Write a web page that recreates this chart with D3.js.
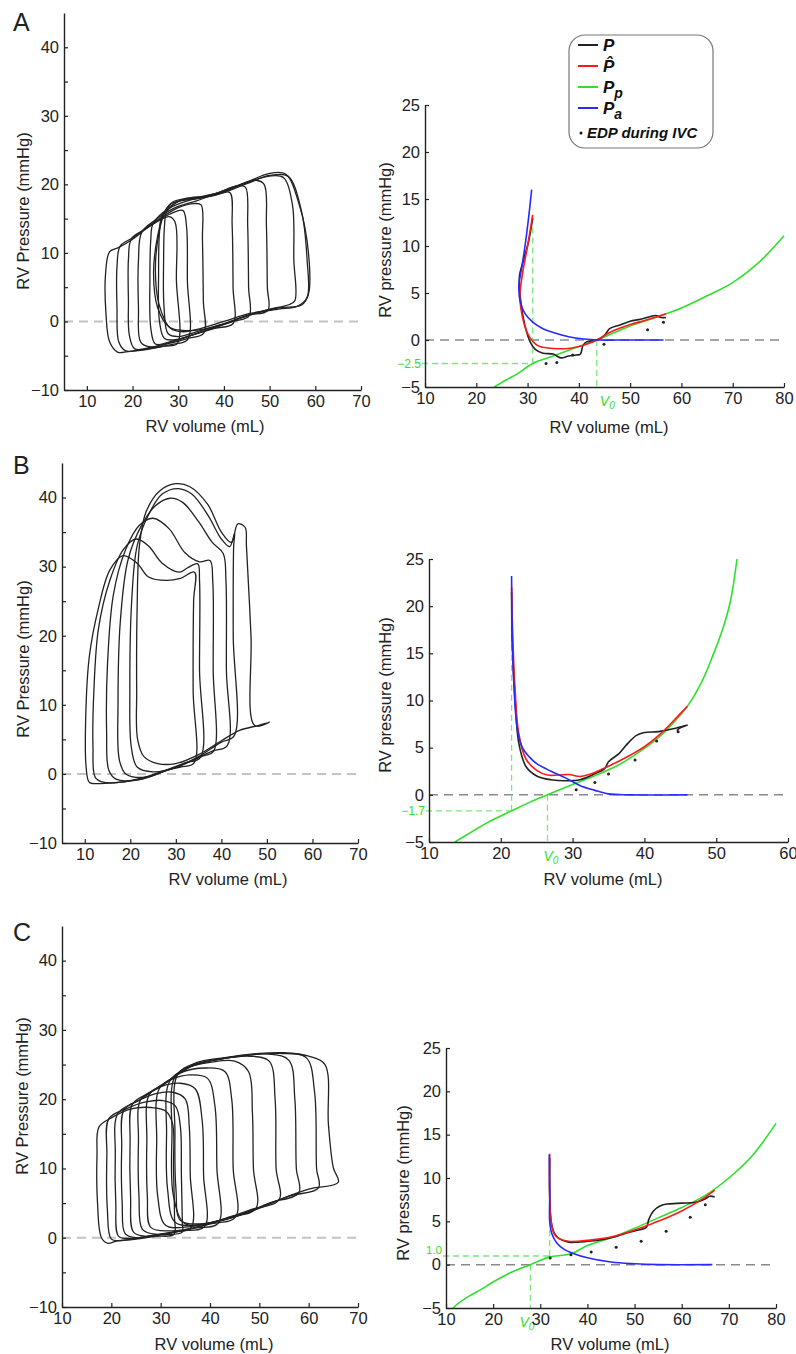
<!DOCTYPE html>
<html>
<head>
<meta charset="utf-8">
<script src="https://cdn.jsdelivr.net/npm/d3@7"></script>
<style>
  body { margin: 0; background: #fff; }
  text { font-family: "Liberation Sans", Arial, Helvetica, sans-serif; }
</style>
</head>
<body>
<script>
// ---------- tick values ----------
const leftXTicks = [10, 20, 30, 40, 50, 60, 70];
const leftYTicks = [-10, -5, 0, 5, 10, 15, 20, 25, 30, 35, 40];
const rightYTicks = [-5, 0, 5, 10, 15, 20, 25];
const rightXTicks80 = [10, 20, 30, 40, 50, 60, 70, 80];
const rightXTicks60 = [10, 20, 30, 40, 50, 60];

// ---------- panel A: PV loops during IVC occlusion [volume, pressure] ----------
const loopsA = [
  [[29,17.5],[35,18.2],[40,19],[45,20.3],[50,21.6],[53.5,21.5],[56.5,17],[58.5,10],[58.5,4],[57,2.4],[52,2],[46,1],[40,-0.3],[35,-1.2],[31,-1.3],[28,-0.8],[25.5,2],[24.6,7],[25.5,12.5],[27,16]],
  [[28.5,17.2],[35,18],[40,18.8],[45,20.1],[50,21.3],[54,21.2],[57,16],[58.2,9],[58.2,3.5],[56,2.2],[52,1.8],[46,1.2],[40,0],[35,-1],[31,-1.5],[28.3,-1],[25.8,2.5],[25,7.5],[25.8,13],[27,15.8]],
  [[27.5,16],[31,17.8],[38,18.4],[44,20],[50,21.2],[53,21],[55,17],[55.3,9],[55.5,3],[54,2.4],[50,1.8],[45,0.8],[40,-0.4],[35,-1.3],[30,-2.2],[27.8,-1.8],[26.9,2],[26.8,9],[27,14]],
  [[26.5,15.5],[30,17.5],[36,18.2],[42,19.6],[47,20.6],[48.8,20],[49.3,14],[49.5,5],[49.6,1.6],[45,0.9],[40,-0.4],[35,-1.5],[30,-2.6],[27,-2.5],[25.9,0],[25.7,7],[25.9,13]],
  [[24.5,14.3],[28,16.5],[33,17.8],[38,18.6],[43,19.8],[44.7,19.6],[45.2,14],[45.4,5],[45.5,0.8],[42,0],[38,-0.9],[33,-2],[28,-3],[25,-3.3],[24,-1],[23.8,6],[24,12]],
  [[22,13],[25,14.8],[29,16.5],[34,17.6],[39,18.7],[41.3,18.8],[41.8,14],[42,5],[42,-0.3],[38,-1],[33,-2],[28,-3.1],[24,-3.7],[21.8,-3],[21.3,2],[21.3,9]],
  [[19.7,12],[22,13.2],[26,15],[30,16.6],[33.5,17.2],[35,17],[35.3,12],[35.5,3],[35.6,-1.7],[32,-2.5],[28,-3.2],[24,-3.8],[20.5,-4],[19.3,-2],[19.1,3],[19.1,9]],
  [[17.3,11],[20,12.2],[24,14],[28,15.6],[31,16.2],[31.8,14],[32,6],[32.1,-2.6],[29,-3.3],[25,-3.8],[21,-4.2],[18.5,-4.3],[17,-3],[16.6,2],[16.6,8]],
  [[15,10.2],[17,10.8],[20,12],[24,14],[28,15.3],[29.3,14.5],[29.6,6],[29.8,-3.2],[27,-3.6],[23,-4.1],[19,-4.4],[16.8,-4.5],[15,-3],[14.2,1],[14.1,7]]
];

// ---------- panel B ----------
const loopsB = [
  [[47.3,7],[46.5,20],[45.5,33],[45.2,35.7],[43.6,36.2],[42.2,33.5],[40,35],[37,39],[33,41.6],[30,42],[26.5,41],[23.5,38],[22,33],[21.5,24],[21.4,12],[21.6,5],[23,2.5],[26,1.5],[30,1.5],[35,2.8],[40,4.8],[44,6.3],[48,7],[50.6,7.5]],
  [[42.8,5.5],[42.6,20],[42.7,33],[42.9,34.8],[41.8,32.9],[40,34],[37,37.5],[33.5,40.5],[30.5,41.3],[27,40.5],[24,37.5],[21.5,33],[20.3,25],[19.9,12],[20.2,4],[21.5,1],[25,0.3],[30,0.9],[35,2.5],[40,4.6]],
  [[41.3,4.1],[41.1,15],[41,28],[40.4,31.9],[38,33.5],[35,36.5],[31.5,39.3],[28.7,39.9],[25.5,38.8],[22.5,36],[19.5,31],[17.8,22],[17.3,10],[17.6,2],[19,0],[23,-0.5],[28,0.5],[33,1.8],[38,3.3]],
  [[38.3,3.3],[38.2,15],[38.1,28],[37.5,30.9],[35.2,30.7],[32,32],[28.5,35.5],[25,37],[22,36],[19,32.5],[16.3,26],[15,16],[14.8,6],[15.3,0.5],[17,-0.8],[22,-0.8],[27,0.3],[32,1.5],[36,2.6]],
  [[35.4,2.4],[35.2,15],[35.2,28],[34.8,30.4],[32.5,29.8],[30.8,29.2],[27,30.5],[24,33],[21.3,34],[18.5,32.5],[15.5,28],[13,21],[12,12],[11.8,4],[12.3,-0.5],[14,-1.2],[18,-1.2],[23,-0.5],[28,0.6],[32,1.6]],
  [[34,1.6],[33.8,12],[33.9,25],[34.1,29.2],[31,28.3],[27.9,28],[24,28.5],[21.5,30.5],[18.4,31.6],[15.5,29.5],[13,24],[11,17],[10.2,8],[10.3,1],[11,-1.2],[13,-1.4],[18,-1.2],[23,-0.7],[28,0.5],[31,1]]
];

// ---------- panel C ----------
const loopsC = [
  [[17.5,16],[20,17.3],[24,18.6],[28,18.8],[31,18.3],[32.4,16.5],[32.6,10],[32.8,3],[32.7,0.5],[29,0.2],[25,-0.2],[21,-0.5],[19.3,-0.8],[18,0],[17.2,5],[17.1,12]],
  [[19.5,17.2],[23,18.6],[27,19.6],[30.5,19.8],[33,19],[34,16],[34.2,9],[34.4,2],[34.4,0.8],[30,0.4],[26,0],[22,-0.4],[20,-0.2],[19.2,4],[19.1,12]],
  [[21.3,17.9],[25,19.6],[29,20.8],[32.5,21],[35,20],[35.8,16],[36,9],[36.2,1.5],[33,0.8],[28,0.3],[24,-0.1],[21.5,0.2],[20.9,5],[20.8,12]],
  [[22.6,18.5],[26,20],[30,21.8],[34,22.3],[37,21.5],[38.4,17],[38.7,9],[38.9,1.6],[34,1],[29,0.4],[25,0],[22.8,0.6],[22.2,5],[22.1,13]],
  [[24.3,19.3],[28,21],[32,22.8],[36,23.5],[39.5,23],[41,19],[41.4,10],[41.7,2.1],[37,1.4],[32,0.7],[27,0.2],[24.5,0.8],[23.9,6],[23.8,14]],
  [[26,20],[30,21.8],[34,23.8],[39,24.5],[43,24],[44.4,20],[44.7,10],[45.2,3],[40,2],[34,1],[29,0.5],[26.3,1.2],[25.6,6],[25.5,14]],
  [[27.7,20.7],[31,22.3],[35,24.4],[40,25.3],[45,25.5],[47.8,24],[48.6,18],[48.8,10],[49.3,4.2],[44,3],[38,1.6],[32,1],[28,1.5],[27.3,6],[27.2,14]],
  [[29.7,21.5],[33,23.3],[37,25],[42,25.8],[48,26.2],[52,25.5],[53.2,20],[53.4,10],[54,5.5],[48,4],[42,2.5],[36,1.6],[31,1.8],[29.4,6],[29.2,14]],
  [[31.7,22.4],[35,24.4],[40,25.5],[46,26.2],[52,26.5],[56,25.6],[57.2,20],[57.5,10],[58,6.5],[52,5],[45,3],[39,2],[33,2.2],[31.4,7],[31.2,15]],
  [[32.8,23.1],[36,24.8],[42,25.8],[48,26.4],[54,26.6],[59.5,26],[61.2,21],[61.6,10],[62,7.2],[56,6],[49,4],[42,2.5],[35,2],[32.6,6],[32.3,15]],
  [[33.4,23.5],[37,25.2],[43,26],[50,26.6],[55,26.7],[60,26.2],[63.3,25],[64,16.4],[65,10.1],[66,8],[60,7],[53,5.2],[45,3],[38,2],[34,2.5],[33.1,7],[32.9,15]]
];

// ---------- right panels: measured P, fitted P^, passive Pp, active Pa, EDP dots ----------
const measuredA = [[31,13],[30.2,10.5],[29.2,8.5],[28.4,6.7],[28.7,4],[29.5,1.5],[30.5,-0.2],[31.5,-1],[33,-1.4],[35,-1.5],[36.5,-1.9],[38,-1.7],[39.5,-1.6],[40.3,-1.5],[40.8,-0.6],[41.5,-0.2],[43.5,0],[45,0.5],[46,1.2],[48,1.6],[50,2],[52,2.2],[54,2.5],[55,2.6],[56,2.4],[57,2.4]];
const fittedA = [[31,13.3],[30,10],[29,7],[28.5,4.6],[29.2,2],[30.2,0.5],[32,-0.6],[35,-0.9],[38,-0.9],[40,-0.7],[42,-0.35],[43.5,0],[46,0.8],[50,1.65],[53,2.1],[56,2.6],[57,2.8]];
const passiveA = [[23.5,-5],[26,-4.2],[28,-3.6],[31,-2.5],[34,-1.9],[37,-1.3],[40,-0.7],[43.5,0],[47,0.8],[50,1.5],[55,2.4],[60,3.4],[65,4.7],[70,6.1],[75,8.2],[80,11.1]];
const activeA = [[30.8,16],[30.2,13],[29.5,10],[28.8,7.5],[28.3,5.8],[28.6,4],[29.5,2.8],[31,1.9],[33,1.2],[35,0.8],[38,0.35],[41,0.1],[43.5,0],[50,0],[56.5,0]];
const edpA = [[33.6,-2.5],[35.7,-2.4],[38.8,-1.6],[44.9,-0.45],[53.4,1.1],[56.5,1.9]];

const measuredB = [[21.5,21.5],[21.6,16],[22,10],[22.5,5.5],[23.5,3],[25,2],[27,1.6],[29,1.5],[31,1.6],[33,2.2],[34.5,2.8],[35,3.5],[36.5,4.4],[37.5,5.3],[38.9,6.3],[40,6.6],[42,6.7],[44,7],[46,7.4],[45,7.1],[44.5,6.8]];
const fittedB = [[21.5,22],[21.7,16],[22,11],[22.5,6.5],[23.5,3.8],[25,2.6],[26.5,2.1],[28,2.1],[29.5,2.15],[31,1.95],[32.5,2.2],[34,2.7],[36,3.4],[38,4.2],[40,5.1],[42,6.3],[44,7.8],[46,9.4]];
const passiveB = [[13.6,-5],[16,-3.9],[18,-3],[21.5,-1.7],[24,-0.8],[26.5,0],[30,1.1],[33,2],[36,3],[39,4.4],[42,6.1],[44,7.6],[46,9.4],[48,12],[49.5,14.7],[51,17.8],[52,20.6],[52.9,25]];
const activeB = [[21.5,23.2],[21.6,17],[21.8,12],[22.3,7],[23,5],[24,4],[25,3.3],[27,2.5],[29,1.8],[31,1],[33,0.5],[35,0.1],[38,0],[46,0]];
const edpB = [[30.5,0.55],[33.1,1.3],[35,2.2],[38.7,3.7],[41.7,5.7],[44.7,6.7]];

const measuredC = [[32,12.3],[32,8],[32.3,5],[33,3.6],[34,3],[36,2.6],[38,2.6],[40,2.7],[42,2.8],[45,3.1],[48,3.6],[50,3.9],[52.5,4.3],[53,5.2],[54,6.2],[55.5,6.8],[57,7],[60,7.1],[63,7.2],[65,7.6],[66,7.9],[67,7.8]];
const fittedC = [[32,12.8],[32,8],[32.3,5],[33,3.5],[34,3],[36,2.7],[38,2.7],[40,2.8],[45,3.2],[50,4],[53,4.6],[55,5],[60,6.2],[65,7.8],[67,8.6]];
const passiveC = [[11.5,-5],[13,-4.3],[15,-3.6],[17,-3],[20,-2],[23,-1.1],[25.5,-0.5],[27.9,0],[30,0.5],[32,0.9],[36.5,1.25],[40,2.2],[45,3.1],[50,4.2],[55,5.4],[60,6.6],[65,8],[70,10],[75,12.6],[80,16.3]];
const activeC = [[31.9,12.7],[32,8],[32,5],[32.5,3.5],[33.5,2.5],[35,1.8],[37,1.3],[40,0.8],[45,0.3],[50,0.1],[55,0],[66.5,0]];
const edpC = [[32.1,0.77],[36.5,1.15],[40.8,1.46],[46.1,2],[51.4,2.7],[56.7,3.85],[61.8,5.46],[65,6.9]];

// V0, the volume at which passive pressure crosses zero, and the min-volume guides
const v0Values = [43.5, 26.5, 27.9];
const guideVolumes = [31, 21.5, 32];
const guidePressures = [-2.5, -1.7, 1.0];
const guideTops = [13, 22, 12];
const guideLabels = ["\u22122.5", "\u22121.7", "1.0"];

// ---------- drawing ----------
const svg = d3.select("body").append("svg").attr("width", 796).attr("height", 1354);
const ink = "#222";
const GREEN = "#2ee02e", RED = "#ff1a1a", BLUE = "#2828ff", GUIDE = "#7be87b";

function axes(x, y, xTicks, yTicks, yShow) {
  const gx = svg.append("g").attr("transform", `translate(0,${y.range()[0]})`)
    .call(d3.axisBottom(x).tickValues(xTicks).tickSizeInner(-4).tickSizeOuter(0).tickPadding(5).tickFormat(d3.format("d")));
  const gy = svg.append("g").attr("transform", `translate(${x.range()[0]},0)`)
    .call(d3.axisLeft(y).tickValues(yTicks).tickSizeInner(-4).tickSizeOuter(0).tickPadding(5)
      .tickFormat(d => yShow(d) ? d3.format("d")(d) : ""));
  [gx, gy].forEach(g => {
    g.select(".domain").attr("stroke", ink).attr("stroke-width", 1.4);
    g.selectAll(".tick line").attr("stroke", ink).attr("stroke-width", 1.2);
    g.selectAll("text").attr("font-size", 16.5).attr("fill", ink)
      .attr("font-family", '"Liberation Sans", Arial, sans-serif');
  });
}

function titles(xl, yl) {
  svg.append("text").attr("x", xl[0]).attr("y", xl[1]).attr("text-anchor", "middle")
    .attr("font-size", 16.5).attr("fill", ink).text("RV volume (mL)");
  svg.append("text").attr("transform", `translate(${yl[0]},${yl[1]}) rotate(-90)`)
    .attr("text-anchor", "middle").attr("dy", "0.35em")
    .attr("font-size", 16.5).attr("fill", ink).text(yl[2]);
}

function zeroLine(x, y, color, w) {
  svg.append("line").attr("x1", x.range()[0]).attr("x2", x.range()[1])
    .attr("y1", y(0)).attr("y2", y(0))
    .attr("stroke", color).attr("stroke-width", w).attr("stroke-dasharray", "9,6");
}

function leftPanel(cfg) {
  const x = d3.scaleLinear().domain(cfg.xd).range(cfg.xr);
  const y = d3.scaleLinear().domain([-10, 45]).range(cfg.yr);
  zeroLine(x, y, "#c4c4c4", 2);
  const loop = d3.line().x(d => x(d[0])).y(d => y(d[1])).curve(d3.curveCatmullRomClosed.alpha(0.5));
  svg.append("g").selectAll("path").data(cfg.loops).join("path")
    .attr("d", loop).attr("fill", "none").attr("stroke", ink).attr("stroke-width", 1.3);
  axes(x, y, leftXTicks, leftYTicks, d => d % 10 === 0);
  titles(cfg.xl, [cfg.yl[0], cfg.yl[1], "RV Pressure (mmHg)"]);
  svg.append("text").attr("x", cfg.letter[0]).attr("y", cfg.letter[1])
    .attr("font-size", 25).attr("fill", ink).text(cfg.name);
}

function rightPanel(cfg, i) {
  const x = d3.scaleLinear().domain(cfg.xd).range(cfg.xr);
  const y = d3.scaleLinear().domain([-5, 25]).range(cfg.yr);
  const x0 = x.range()[0];
  zeroLine(x, y, "#8a8a8a", 1.5);

  // green guide lines
  const gv = guideVolumes[i], gp = guidePressures[i];
  const guide = (x1, y1, x2, y2) => svg.append("line")
    .attr("x1", x1).attr("y1", y1).attr("x2", x2).attr("y2", y2)
    .attr("stroke", GUIDE).attr("stroke-width", 1.3).attr("stroke-dasharray", "6,4");
  guide(x0 - 3, y(gp), x(gv), y(gp));
  guide(x(gv), y(gp), x(gv), y(guideTops[i]));
  guide(x(v0Values[i]), y(0), x(v0Values[i]), y(-5));
  svg.append("text").attr("x", x0 - 4).attr("y", y(gp) + cfg.labelDy)
    .attr("text-anchor", "end").attr("font-size", cfg.labelSize).attr("fill", GREEN).text(guideLabels[i]);
  const v0t = svg.append("text").attr("x", x(v0Values[i]) + cfg.v0dx).attr("y", y(-5) + 19)
    .attr("font-size", 14).attr("font-style", "italic").attr("fill", GREEN);
  v0t.append("tspan").text("V");
  v0t.append("tspan").attr("font-size", 10).attr("dy", 3).text("0");

  const line = d3.line().x(d => x(d[0])).y(d => y(d[1])).curve(d3.curveCatmullRom.alpha(0.5));
  const series = [[cfg.passive, GREEN], [cfg.measured, ink], [cfg.fitted, RED], [cfg.active, BLUE]];
  svg.append("g").selectAll("path").data(series).join("path")
    .attr("d", d => line(d[0])).attr("fill", "none")
    .attr("stroke", d => d[1]).attr("stroke-width", 1.6);
  svg.append("g").selectAll("circle").data(cfg.edp).join("circle")
    .attr("cx", d => x(d[0])).attr("cy", d => y(d[1])).attr("r", 1.5).attr("fill", ink);

  axes(x, y, cfg.xTicks, rightYTicks, () => true);
  titles(cfg.xl, [cfg.yl[0], cfg.yl[1], "RV pressure (mmHg)"]);
}

leftPanel({ name: "A", loops: loopsA, xd: [5, 70], xr: [64, 361], yr: [390, 13], letter: [13, 31], xl: [205, 432], yl: [23, 211] });
leftPanel({ name: "B", loops: loopsB, xd: [5, 70], xr: [62, 358], yr: [843, 463], letter: [13, 474], xl: [228, 885], yl: [23, 659] });
leftPanel({ name: "C", loops: loopsC, xd: [10, 70], xr: [62, 358], yr: [1307, 926], letter: [13, 941], xl: [214, 1350], yl: [22, 1096] });

rightPanel({ xd: [10, 80], xr: [425, 784], yr: [387, 105], xTicks: rightXTicks80, measured: measuredA, fitted: fittedA, passive: passiveA, active: activeA, edp: edpA, v0dx: 3, labelDy: 4, labelSize: 12, xl: [609, 433], yl: [385, 240] }, 0);
rightPanel({ xd: [10, 60], xr: [429, 788], yr: [842, 559], xTicks: rightXTicks60, measured: measuredB, fitted: fittedB, passive: passiveB, active: activeB, edp: edpB, v0dx: -4, labelDy: 4, labelSize: 12, xl: [603, 885], yl: [385, 695] }, 1);
rightPanel({ xd: [10, 80], xr: [446, 776], yr: [1308, 1048], xTicks: rightXTicks80, measured: measuredC, fitted: fittedC, passive: passiveC, active: activeC, edp: edpC, v0dx: -11, labelDy: -2.5, labelSize: 11.5, xl: [610, 1350], yl: [403, 1183] }, 2);

// ---------- legend ----------
const legendNames = ["P", "P\u0302", "P", "P"];
const legendSubs = ["", "", "p", "a"];
const legendColors = [ink, RED, GREEN, BLUE];
const lg = svg.append("g");
lg.append("rect").attr("x", 569).attr("y", 35).attr("width", 144).attr("height", 113).attr("rx", 16)
  .attr("fill", "#fff").attr("stroke", "#777").attr("stroke-width", 1.2);
const legendY = d3.scalePoint().domain(d3.range(4)).range([45, 108]);
legendNames.forEach((n, i) => {
  const ly = legendY(i);
  lg.append("line").attr("x1", 578).attr("x2", 598).attr("y1", ly).attr("y2", ly)
    .attr("stroke", legendColors[i]).attr("stroke-width", 2);
  const t = lg.append("text").attr("x", 603).attr("y", ly + 6).attr("font-size", 17)
    .attr("font-weight", "bold").attr("font-style", "italic").attr("fill", "#111");
  t.append("tspan").text(n);
  if (legendSubs[i]) t.append("tspan").attr("font-size", 14).attr("dy", 5).text(legendSubs[i]);
});
lg.append("circle").attr("cx", 581).attr("cy", 133).attr("r", 1.5).attr("fill", "#111");
lg.append("text").attr("x", 587).attr("y", 138).attr("font-size", 15)
  .attr("font-weight", "bold").attr("font-style", "italic").attr("fill", "#111").text("EDP during IVC");
</script>
</body>
</html>
